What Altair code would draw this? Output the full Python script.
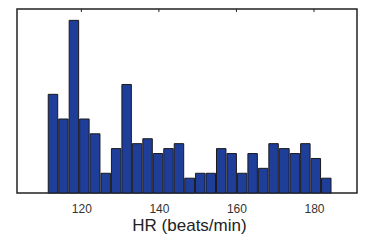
import altair as alt
import pandas as pd

# Bin edges (HR, beats/min) and counts
bin_start = [111.2, 113.9, 116.6, 119.3, 122.0, 124.8, 127.5, 130.2, 132.9, 135.6,
             138.3, 141.0, 143.7, 146.4, 149.2, 151.9, 154.6, 157.3, 160.0, 162.7,
             165.4, 168.1, 170.8, 173.6, 176.3, 179.0, 181.7]
bin_end = [113.9, 116.6, 119.3, 122.0, 124.8, 127.5, 130.2, 132.9, 135.6, 138.3,
           141.0, 143.7, 146.4, 149.2, 151.9, 154.6, 157.3, 160.0, 162.7, 165.4,
           168.1, 170.8, 173.6, 176.3, 179.0, 181.7, 184.4]
counts = [20, 15, 35, 15, 12, 4, 9, 22, 10, 11, 8, 9, 10, 3, 4, 4, 9, 8, 4, 8,
          5, 10, 9, 8, 10, 7, 3]
tick_values = [120, 140, 160, 180]

df = pd.DataFrame({"start": bin_start, "end": bin_end, "count": counts})
ticks = pd.DataFrame({"t": tick_values})

xscale = alt.Scale(domain=[103.4, 191.1], nice=False, zero=False)
yscale = alt.Scale(domain=[0, 37.3], nice=False)

bars = alt.Chart(df).mark_bar(
    color="#1f3e9a", stroke="#1a1a1a", strokeWidth=1, binSpacing=1
).encode(
    x=alt.X("start:Q", bin="binned", scale=xscale,
            axis=alt.Axis(values=tick_values, title="HR (beats/min)", domain=False,
                          ticks=False, grid=False, labelFont="Liberation Sans",
                          labelFontSize=12, labelColor="#333333", labelPadding=10,
                          titleFont="Liberation Sans",
                          titleFontSize=17, titleFontWeight="normal",
                          titleColor="#222222", titleBaseline="alphabetic",
                          titleAlign="center", titleX=172, titleY=37)),
    x2="end:Q",
    y=alt.Y("count:Q", scale=yscale, axis=None),
)

top_ticks = alt.Chart(ticks).mark_rule(color="#222222", strokeWidth=1).encode(
    x=alt.X("t:Q", scale=xscale),
    y=alt.value(0),
    y2=alt.value(3),
)

chart = alt.layer(bars, top_ticks).properties(
    width=340, height=184,
    autosize=alt.AutoSizeParams(type="none"),
    padding={"left": 9, "top": 1, "right": 1, "bottom": 42},
).configure(
    background="white",
    view=alt.ViewConfig(stroke="#222222", strokeWidth=1.5),
)

chart.save("out.html", embed_options={"renderer": "svg", "actions": False})
